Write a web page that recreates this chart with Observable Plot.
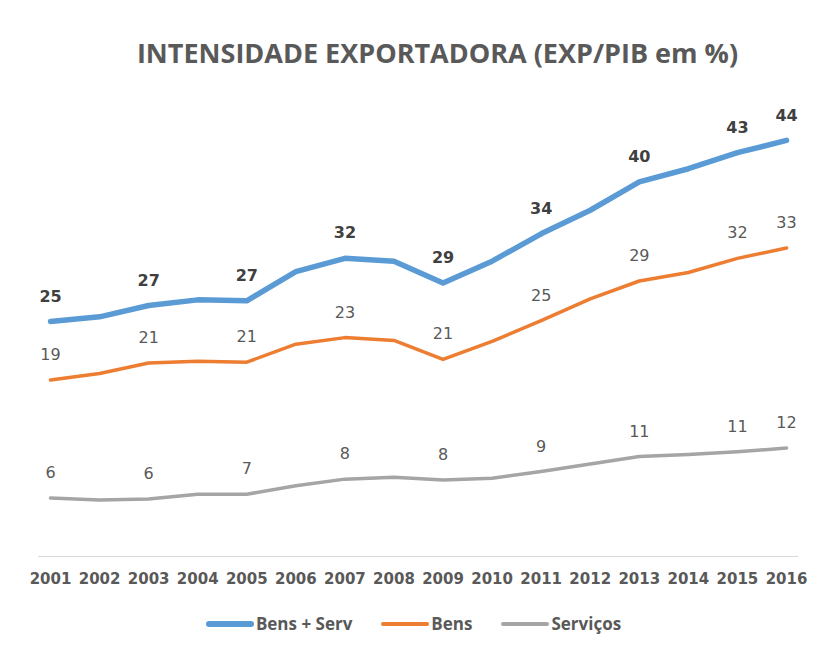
<!DOCTYPE html>
<html>
<head>
<meta charset="utf-8">
<script src="https://cdn.jsdelivr.net/npm/d3@7"></script>
<script src="https://cdn.jsdelivr.net/npm/@observablehq/plot@0.6"></script>
<style>
  body { margin: 0; background: #fff; font-family: "Open Sans", sans-serif; }
  #title { height: 88px; box-sizing: border-box; padding-top: 37px; line-height: 32px; text-align: center; font-size: 27px; font-weight: bold; color: #595959; padding-left: 52px; }
  #legend { display: flex; justify-content: center; gap: 29px; margin-top: 18px; line-height: 20px; font-size: 17px; font-weight: bold; color: #595959; padding-left: 4px; }
  .item { display: flex; align-items: center; gap: 2px; }
  .sw { width: 48px; border-radius: 3px; }
</style>
</head>
<body>
<div id="title">INTENSIDADE EXPORTADORA (EXP/PIB em %)</div>
<div id="chart"></div>
<div id="legend"></div>
<script>
const years = [2001, 2002, 2003, 2004, 2005, 2006, 2007, 2008, 2009, 2010, 2011, 2012, 2013, 2014, 2015, 2016];
const bensServ = [24.9, 25.4, 26.6, 27.2, 27.1, 30.2, 31.6, 31.3, 29.0, 31.3, 34.2, 36.7, 39.7, 41.1, 42.8, 44.1];
const bens = [18.7, 19.4, 20.5, 20.7, 20.6, 22.5, 23.2, 22.9, 20.9, 22.8, 25.0, 27.3, 29.2, 30.1, 31.6, 32.7];
const servicos = [6.2, 6.0, 6.1, 6.6, 6.6, 7.5, 8.2, 8.4, 8.1, 8.3, 9.0, 9.8, 10.6, 10.8, 11.1, 11.5];
const labelYears = [2001, 2003, 2005, 2007, 2009, 2011, 2013, 2015, 2016];
const seriesNames = ["Bens + Serv", "Bens", "Serviços"];
const seriesColors = ["#5B9BD5", "#ED7D31", "#A5A5A5"];

const seriesValues = [bensServ, bens, servicos];
const widths = [5.5, 3.5, 3.5];
const data = seriesNames.map((name, i) => years.map((y, j) => ({series: name, year: y, value: seriesValues[i][j]})));

const marks = [Plot.ruleY([0], {stroke: "#d9d9d9", strokeWidth: 1})];
data.forEach((d, i) => {
  marks.push(Plot.line(d, {x: "year", y: "value", stroke: seriesColors[i], strokeWidth: widths[i], strokeLinejoin: "round", strokeLinecap: "round"}));
});
data.forEach((d, i) => {
  marks.push(Plot.text(d.filter(r => labelYears.includes(r.year)), {
    x: "year", y: "value", text: r => String(Math.round(r.value)), dy: -25,
    fontSize: 16, fontFamily: "DejaVu Sans, sans-serif",
    fontWeight: i === 0 ? "bold" : "normal", fill: i === 0 ? "#404040" : "#595959"
  }));
});
marks.push(Plot.axisX({ticks: years, tickFormat: d => String(d), tickSize: 0, tickPadding: 17, fontSize: 15, fontFamily: "DejaVu Sans, sans-serif", fontWeight: "bold", fill: "#595959", label: null}));

const chart = Plot.plot({
  width: 823,
  height: 508,
  marginTop: 34,
  marginBottom: 40,
  marginLeft: 38,
  marginRight: 25,
  style: {fontFamily: "Open Sans, sans-serif", background: "#fff"},
  x: {domain: [2001, 2016], insetLeft: 12, insetRight: 12},
  y: {domain: [0, 46], axis: null},
  marks
});
document.getElementById("chart").appendChild(chart);

const legend = document.getElementById("legend");
seriesNames.forEach((n, i) => {
  const item = document.createElement("div");
  item.className = "item";
  const sw = document.createElement("div");
  sw.className = "sw";
  sw.style.background = seriesColors[i];
  sw.style.height = (i === 0 ? 6 : 4) + "px";
  const t = document.createElement("span");
  t.textContent = n;
  item.appendChild(sw); item.appendChild(t);
  legend.appendChild(item);
});
</script>
</body>
</html>
